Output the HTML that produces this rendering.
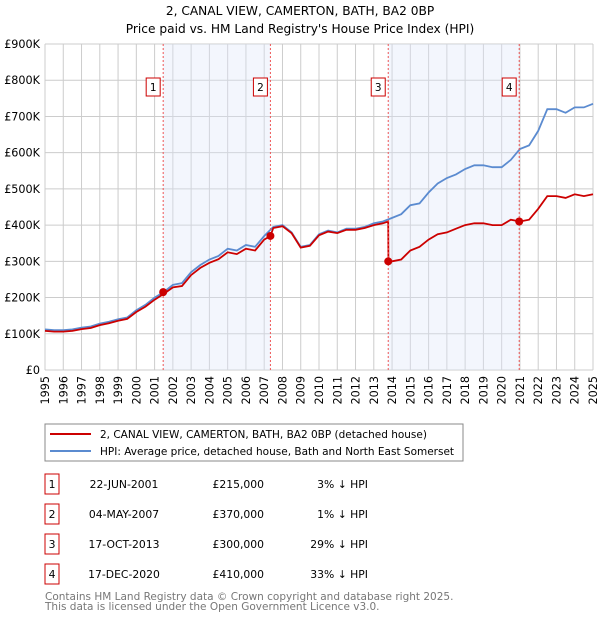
<!DOCTYPE html>
<html><head><meta charset="utf-8"><style>
body{margin:0;background:#fff;font-family:"DejaVu Sans","Liberation Sans",sans-serif;}
svg text{font-family:"DejaVu Sans","Liberation Sans",sans-serif;}
</style></head><body>
<svg id="c" width="600" height="620" viewBox="0 0 600 620" xmlns="http://www.w3.org/2000/svg">
<text x="300" y="15" text-anchor="middle" font-size="12.2">2, CANAL VIEW, CAMERTON, BATH, BA2 0BP</text>
<text x="300" y="33" text-anchor="middle" font-size="12.2">Price paid vs. HM Land Registry's House Price Index (HPI)</text>
<g id="grid"></g><g id="shade"></g><g id="lines"></g><g id="marks"></g>
<rect x="45" y="424" width="418" height="37" fill="#fff" stroke="#888"/>
<line x1="50" y1="434" x2="91" y2="434" stroke="#cc0000" stroke-width="2"/>
<text x="100" y="438" font-size="10.5">2, CANAL VIEW, CAMERTON, BATH, BA2 0BP (detached house)</text>
<line x1="50" y1="451" x2="91" y2="451" stroke="#5b8bd0" stroke-width="2"/>
<text x="100" y="455" font-size="10.5">HPI: Average price, detached house, Bath and North East Somerset</text>
<g id="table"></g>
<text x="45" y="600" font-size="10.5" fill="#777">Contains HM Land Registry data © Crown copyright and database right 2025.</text>
<text x="45" y="610" font-size="10.5" fill="#777">This data is licensed under the Open Government Licence v3.0.</text>
</svg>
<script>
const hpiYears=[1995,1995.5,1996,1996.5,1997,1997.5,1998,1998.5,1999,1999.5,2000,2000.5,2001,2001.5,2002,2002.5,2003,2003.5,2004,2004.5,2005,2005.5,2006,2006.5,2007,2007.5,2008,2008.5,2009,2009.5,2010,2010.5,2011,2011.5,2012,2012.5,2013,2013.5,2014,2014.5,2015,2015.5,2016,2016.5,2017,2017.5,2018,2018.5,2019,2019.5,2020,2020.5,2021,2021.5,2022,2022.5,2023,2023.5,2024,2024.5,2025];
const hpiValues=[112,110,110,112,117,120,128,133,140,145,165,180,200,215,235,240,270,290,305,315,335,330,345,340,370,395,400,380,340,345,375,385,380,390,390,395,405,410,420,430,455,460,490,515,530,540,555,565,565,560,560,580,610,620,660,720,720,710,725,725,735];
const priceYears=[1995,1995.5,1996,1996.5,1997,1997.5,1998,1998.5,1999,1999.5,2000,2000.5,2001,2001.5,2002,2002.5,2003,2003.5,2004,2004.5,2005,2005.5,2006,2006.5,2007,2007.34,2007.5,2008,2008.5,2009,2009.5,2010,2010.5,2011,2011.5,2012,2012.5,2013,2013.5,2013.79,2013.8,2014,2014.5,2015,2015.5,2016,2016.5,2017,2017.5,2018,2018.5,2019,2019.5,2020,2020.5,2021,2021.5,2022,2022.5,2023,2023.5,2024,2024.5,2025];
const priceValues=[108,106,106,108,113,116,124,129,136,141,160,175,194,210,228,232,262,282,296,306,325,320,335,330,360,370,392,397,378,338,343,372,382,378,387,387,392,400,405,410,300,300,305,330,340,360,375,380,390,400,405,405,400,400,415,410,415,445,480,480,475,485,480,485];
const saleYears=[2001.47,2007.34,2013.79,2020.96];
const saleValues=[215,370,300,410];
const saleLabels=["1","2","3","4"];
const saleDates=["22-JUN-2001","04-MAY-2007","17-OCT-2013","17-DEC-2020"];
const salePrices=["£215,000","£370,000","£300,000","£410,000"];
const saleDiffs=["3% ↓ HPI","1% ↓ HPI","29% ↓ HPI","33% ↓ HPI"];
const yTicks=[0,100,200,300,400,500,600,700,800,900];
const yTickLabels=["£0","£100K","£200K","£300K","£400K","£500K","£600K","£700K","£800K","£900K"];
const xTicks=[1995,1996,1997,1998,1999,2000,2001,2002,2003,2004,2005,2006,2007,2008,2009,2010,2011,2012,2013,2014,2015,2016,2017,2018,2019,2020,2021,2022,2023,2024,2025];

const NS="http://www.w3.org/2000/svg";
const X0=45,X1=593,Y0=370,Y1=44;
const x=y=>X0+(y-1995)/30*(X1-X0);
const yv=v=>Y0-v/900*(Y0-Y1);
function mk(tag,attrs,parent,text){const e=document.createElementNS(NS,tag);for(const k in attrs)e.setAttribute(k,attrs[k]);if(text!==undefined)e.textContent=text;document.getElementById(parent).appendChild(e);return e;}
yTicks.forEach((t,i)=>{
 const l=mk('line',{x1:X0,x2:X1,y1:yv(t),y2:yv(t),stroke:'#ccc'},'grid');
 
 
 const tx=mk('text',{x:40,y:yv(t)+4,'text-anchor':'end','font-size':'11.2'},'grid',yTickLabels[i]);
 
 
});
xTicks.forEach(t=>{
 const l=mk('line',{x1:x(t),x2:x(t),y1:Y1,y2:Y0,stroke:'#ccc'},'grid');
 
 
 const tx=mk('text',{x:0,y:0,'text-anchor':'end','font-size':'11.2',transform:`translate(${x(t)+4},${Y0+6}) rotate(-90)`},'grid',String(t));
 
 
});
[[0,1],[2,3]].forEach(p=>{
 const r=mk('rect',{x:x(saleYears[p[0]]),y:Y1,width:x(saleYears[p[1]])-x(saleYears[p[0]]),height:Y0-Y1,fill:'#dde6fa',opacity:0.35},'shade');
 
 
});
const pts=(xs,vs)=>xs.map((a,i)=>x(a).toFixed(1)+','+yv(vs[i]).toFixed(1)).join(' ');
const h=mk('polyline',{points:pts(hpiYears,hpiValues),fill:'none',stroke:'#5b8bd0','stroke-width':1.8},'lines');


const p=mk('polyline',{points:pts(priceYears,priceValues),fill:'none',stroke:'#cc0000','stroke-width':1.8},'lines');


saleYears.forEach((s,i)=>{
 const l=mk('line',{x1:x(s),x2:x(s),y1:Y1,y2:Y0,stroke:'#e55','stroke-dasharray':'2,2'},'marks');
 
 
 const c=mk('circle',{cx:x(s),cy:yv(saleValues[i]),r:4,fill:'#cc0000'},'marks');
 
 
 const b=mk('rect',{x:x(s)-17,y:78,width:14,height:18,fill:'#fff',stroke:'#cc0000'},'marks');
 
 
 const t=mk('text',{x:x(s)-10,y:91,'text-anchor':'middle','font-size':'10.5'},'marks',saleLabels[i]);
 
 
 const ry=483+i*30;
 const tb=mk('rect',{x:45,y:ry-9,width:14,height:20,fill:'#fff',stroke:'#cc0000'},'table');
 
 
 const t1=mk('text',{x:52,y:ry+5,'text-anchor':'middle','font-size':'10.8'},'table',saleLabels[i]);
 
 
 const t2=mk('text',{x:124,y:ry+5,'text-anchor':'middle','font-size':'10.8'},'table',saleDates[i]);
 
 
 const t3=mk('text',{x:264,y:ry+5,'text-anchor':'end','font-size':'10.8'},'table',salePrices[i]);
 
 
 const t4=mk('text',{x:368,y:ry+5,'text-anchor':'end','font-size':'10.8'},'table',saleDiffs[i]);
 
 
});
</script>
</body></html>
